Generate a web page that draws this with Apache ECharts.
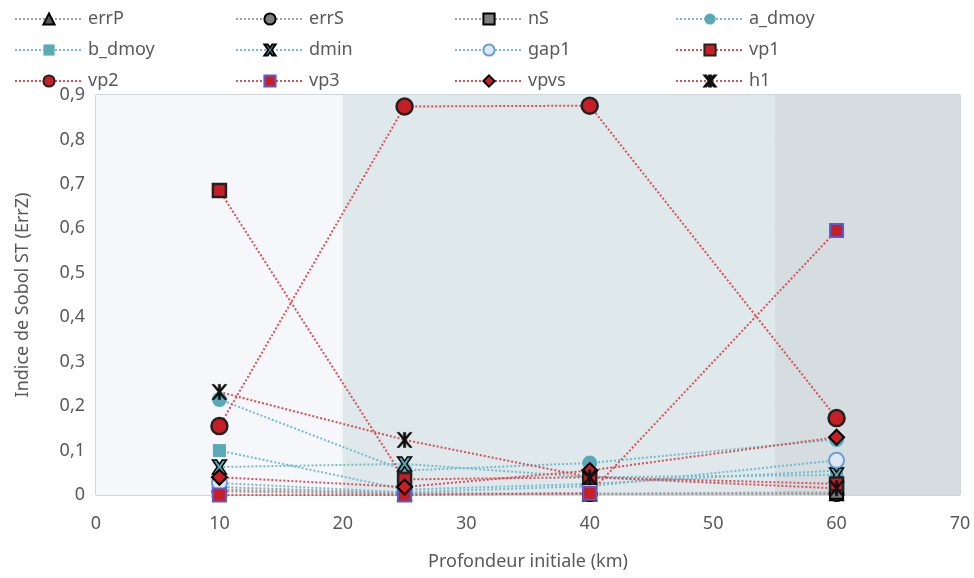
<!DOCTYPE html>
<html><head><meta charset="utf-8">
<script src="https://cdn.jsdelivr.net/npm/echarts@6/dist/echarts.min.js"></script>
<style>html,body{margin:0;padding:0;background:#fff}#c{width:974px;height:578px}</style>
</head><body><div id="c"></div>
<script>
const depths = [10, 25, 40, 60];
const errP   = [0.012, 0.003, 0.002, 0.003];
const errS   = [0.008, 0.002, 0.002, 0.002];
const nS     = [0.018, 0.004, 0.003, 0.006];
const a_dmoy = [0.215, 0.055, 0.072, 0.125];
const b_dmoy = [0.100, 0.012, 0.025, 0.055];
const dmin   = [0.063, 0.070, 0.040, 0.045];
const gap1   = [0.027, 0.006, 0.020, 0.078];
const vp1    = [0.685, 0.035, 0.040, 0.025];
const vp2    = [0.155, 0.874, 0.876, 0.173];
const vp3    = [0.000, 0.000, 0.004, 0.595];
const vpvs   = [0.040, 0.018, 0.055, 0.130];
const h1     = [0.232, 0.124, 0.040, 0.015];
const xTicks = [0, 10, 20, 30, 40, 50, 60, 70];
const yTicks = [0, 0.1, 0.2, 0.3, 0.4, 0.5, 0.6, 0.7, 0.8, 0.9];
const bands = [[0, 20, '#f5f7fa'], [20, 55, '#dfe9ec'], [55, 70, '#d5dde0']];

const GRAY = '#a0a0a0', TEAL = '#74bccb', RED = '#d5525a';
const RFILL = '#c81e26', TFILL = '#5aa9b6', GFILL = '#7f7f7f';
const XPATH = 'path://M0,0 L3,0 L5,3 L7,0 L10,0 L6.6,5 L10,10 L7,10 L5,7 L3,10 L0,10 L3.4,5 Z';
const STAR = 'path://M0,0 L1.6,0 L5,3.9 L8.4,0 L10,0 L5.9,5 L10,10 L8.4,10 L5,6.1 L1.6,10 L0,10 L4.1,5 Z M4.2,0 L5.8,0 L5.8,10 L4.2,10 Z';

function mk(name, vals, lineColor, symbol, size, fill, border, bw) {
  return {
    name, type: 'line', data: depths.map((d, i) => [d, vals[i]]),
    symbol, symbolSize: size, showSymbol: true,
    lineStyle: { color: lineColor, width: 2, type: 'dotted' },
    itemStyle: { color: fill, borderColor: border, borderWidth: bw },
    z: 3
  };
}
const series = [
  mk('errP', errP, GRAY, 'triangle', 13, '#595959', '#000', 2),
  mk('errS', errS, GRAY, 'circle', 14, GFILL, '#000', 2),
  mk('nS', nS, GRAY, 'rect', 13, GFILL, '#000', 2),
  mk('a_dmoy', a_dmoy, TEAL, 'circle', 15, TFILL, TFILL, 0),
  mk('b_dmoy', b_dmoy, TEAL, 'rect', 13, TFILL, TFILL, 0),
  mk('dmin', dmin, TEAL, XPATH, 14, TFILL, '#000', 1.5),
  mk('gap1', gap1, TEAL, 'circle', 15, '#dde8f4', '#6a9fd6', 2),
  mk('vp1', vp1, RED, 'rect', 13, RFILL, '#222', 2.5),
  mk('vp2', vp2, RED, 'circle', 16, RFILL, '#222', 2.5),
  mk('vp3', vp3, RED, 'rect', 13, RFILL, '#5b5bd0', 2),
  mk('vpvs', vpvs, RED, 'diamond', 15, RFILL, '#000', 2),
  mk('h1', h1, RED, STAR, 15, '#111', '#111', 0.6)
];
series.unshift({
  name: 'bg', type: 'line', data: [], z: -1, silent: true,
  markArea: { silent: true, data: bands.map(b => [{ xAxis: b[0], itemStyle: { color: b[2] } }, { xAxis: b[1] }]) }
});

const cols = [['errP', 'b_dmoy', 'vp2'], ['errS', 'dmin', 'vp3'], ['nS', 'gap1', 'vpvs'], ['a_dmoy', 'vp1', 'h1']];
const lefts = [9, 230, 449, 670];
const legends = cols.map((c, i) => ({
  data: c, orient: 'vertical', left: lefts[i], top: 5,
  itemWidth: 68, itemHeight: 14, itemGap: 13, selectedMode: false,
  textStyle: { fontFamily: 'Noto Sans', fontSize: 18, color: '#595959' }
}));

const fmt = v => v === 0 ? '0' : v.toFixed(1).replace('.', ',');
const chart = echarts.init(document.getElementById('c'), null, { renderer: 'canvas' });
chart.setOption({
  animation: false,
  legend: legends,
  grid: { left: 96, right: 14, top: 95, bottom: 83 },
  xAxis: {
    type: 'value', min: xTicks[0], max: xTicks[xTicks.length - 1], interval: 10,
    name: 'Profondeur initiale (km)', nameLocation: 'middle', nameGap: 58,
    nameTextStyle: { fontFamily: 'Noto Sans', fontSize: 18, color: '#595959' },
    axisLine: { show: false }, axisTick: { show: false },
    axisLabel: { margin: 20, fontFamily: 'Noto Sans', fontSize: 18, color: '#595959' },
    splitLine: { show: true, lineStyle: { color: '#cfd5d8', width: 2 } }
  },
  yAxis: {
    type: 'value', min: yTicks[0], max: yTicks[yTicks.length - 1], interval: 0.1,
    name: 'Indice de Sobol ST (ErrZ)', nameLocation: 'middle', nameGap: 64,
    nameTextStyle: { fontFamily: 'Noto Sans', fontSize: 18, color: '#595959' },
    axisLine: { show: false }, axisTick: { show: false },
    axisLabel: { margin: 11, formatter: fmt, fontFamily: 'Noto Sans', fontSize: 18, color: '#595959' },
    splitLine: { show: true, lineStyle: { color: '#cfd5d8', width: 2 } }
  },
  series
});
</script></body></html>
